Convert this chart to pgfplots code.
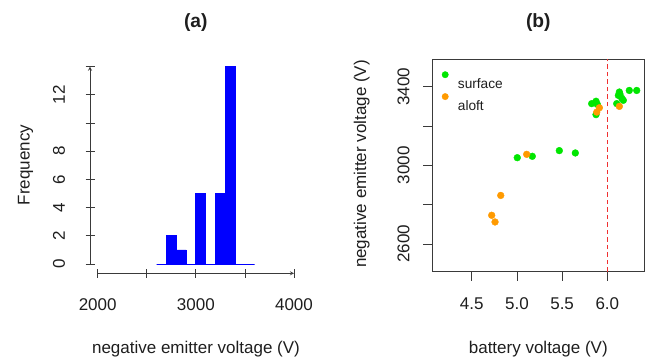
\documentclass[border=0pt]{standalone}
\usepackage{fontspec}
\setmainfont{Liberation Sans}
\usepackage{pgfplots}
\pgfplotsset{compat=1.18}
\definecolor{surf}{HTML}{00E600}
\definecolor{alof}{HTML}{FF9A00}
\definecolor{rdash}{HTML}{F03030}
\definecolor{axc}{HTML}{3A3A3A}
\definecolor{txt}{HTML}{1E1E1E}
\begin{document}
\begin{tikzpicture}[x=1pt,y=1pt]
\useasboundingbox (0,0) rectangle (647,360);
\pgfplotsset{
 rstyle/.style={scale only axis, clip=false,
   axis line style={axc, line width=0.8pt, -},
   major tick style={axc, line width=0.8pt},
   tick align=outside, major tick length=9pt,
   ticklabel style={font=\fontsize{17}{20}\selectfont, inner sep=0pt, text=txt},
   /pgf/number format/assume math mode=true},
}
% ---------- (a) histogram ----------
\begin{axis}[at={(89.9pt,88pt)}, anchor=south west, scale only axis,
  width=211.9pt, height=213.3pt, xmin=1920, xmax=4080, ymin=-0.56, ymax=14.56,
  hide axis, clip=false]
\addplot[ybar interval, fill=blue, draw=blue, line width=0.8pt] coordinates {
 (2600,0) (2700,2) (2800,1) (2900,0) (3000,5) (3100,0) (3200,5) (3300,14) (3400,0) (3500,0) (3600,0)};
\end{axis}
% left y axis
\begin{axis}[rstyle, at={(90pt,96pt)}, anchor=south west, width=10pt, height=197.3pt,
  xmin=0, xmax=1, ymin=0, ymax=14, axis y line=left, axis x line=none,
  ytick={0,2,...,14}, yticklabels={0,2,4,6,8,,12,},
  yticklabel style={xshift=-20.7pt, rotate=90, anchor=base}]
\end{axis}
% left x axis
\begin{axis}[rstyle, at={(97.7pt,86.7pt)}, anchor=south west, width=196.3pt, height=10pt,
  xmin=2000, xmax=4000, ymin=0, ymax=1, axis x line=bottom, axis y line=none,
  xtick={2000,2500,...,4000}, xticklabels={2000,,3000,,4000},
  xticklabel style={yshift=-32.4pt, anchor=base}]
\end{axis}
% ---------- (b) scatter ----------
\begin{axis}[rstyle, at={(432.3pt,88.3pt)}, anchor=south west, width=212pt, height=212.7pt,
  xmin=4.0642, xmax=6.409, ymin=2459, ymax=3541,
  xtick={4.5,5,5.5,6}, xticklabels={4.5,5.0,5.5,6.0},
  ytick={2600,2800,...,3400}, yticklabels={2600,,3000,,3400},
  xtick pos=bottom, ytick pos=left,
  xticklabel style={yshift=-28.5pt, anchor=base},
  yticklabel style={xshift=-14pt, rotate=90, anchor=base},
  legend style={at={(0,1)}, anchor=north west, xshift=8pt, yshift=-12.1pt, draw=none, fill=none,
    font=\fontsize{13.7}{16}\selectfont, inner sep=0pt, row sep=4.5pt,
    nodes={inner sep=0pt, text=txt, text height=10pt, text depth=0pt},
    /tikz/every odd column/.append style={column sep=4.7pt}},
  legend cell align=left,
  legend image code/.code={\fill[#1] (4.7pt,9pt) circle (3.2pt); \path[draw=none,fill=none] (0pt,0pt) rectangle (12.7pt,0.1pt);},
  ]
\addplot[only marks, mark=*, mark size=3.4pt, color=surf, mark options={draw=surf, fill=surf}] coordinates {
 (5.004,3039) (5.170,3046) (5.469,3075) (5.646,3063)
 (5.827,3314) (5.875,3326) (5.875,3258) (5.890,3310)
 (6.133,3373) (6.122,3356) (6.159,3342) (6.177,3331) (6.104,3314) (6.243,3381) (6.325,3381) (6.140,3362)};
\addlegendentry{surface}
\addplot[only marks, mark=*, mark size=3.4pt, color=alof, mark options={draw=alof, fill=alof}] coordinates {
 (5.108,3056) (4.821,2847) (4.721,2746) (4.758,2712) (5.912,3293) (5.883,3271) (6.133,3300)};
\addlegendentry{aloft}
% dashed reference line at 6.0 V, drawn as solid segments
\addplot[draw=rdash, line width=1.1pt, unbounded coords=jump, forget plot] coordinates {
 (6,2459.0) (6,2481.9) (6,nan) (6,2497.2) (6,2520.1) (6,nan) (6,2535.4) (6,2558.3) (6,nan)
 (6,2573.6) (6,2596.5) (6,nan) (6,2611.8) (6,2634.7) (6,nan) (6,2650.0) (6,2672.9) (6,nan)
 (6,2688.2) (6,2711.1) (6,nan) (6,2726.4) (6,2749.3) (6,nan) (6,2764.6) (6,2787.5) (6,nan)
 (6,2802.8) (6,2825.7) (6,nan) (6,2841.0) (6,2863.9) (6,nan) (6,2879.2) (6,2902.1) (6,nan)
 (6,2917.4) (6,2940.3) (6,nan) (6,2955.6) (6,2978.5) (6,nan) (6,2993.8) (6,3016.7) (6,nan)
 (6,3032.0) (6,3054.9) (6,nan) (6,3070.2) (6,3093.1) (6,nan) (6,3108.4) (6,3131.3) (6,nan)
 (6,3146.6) (6,3169.5) (6,nan) (6,3184.8) (6,3207.7) (6,nan) (6,3223.0) (6,3245.9) (6,nan)
 (6,3261.2) (6,3284.1) (6,nan) (6,3299.4) (6,3322.3) (6,nan) (6,3337.6) (6,3360.5) (6,nan)
 (6,3375.8) (6,3398.7) (6,nan) (6,3414.0) (6,3436.9) (6,nan) (6,3452.2) (6,3475.1) (6,nan)
 (6,3490.4) (6,3513.3) (6,nan) (6,3528.6) (6,3541.0)};
\end{axis}
% ---------- titles and labels ----------
\node[font=\fontsize{19.2}{22}\selectfont\bfseries, text=txt, anchor=base, inner sep=0pt] at (195.8,332.3) {(a)};
\node[font=\fontsize{19.2}{22}\selectfont\bfseries, text=txt, anchor=base, inner sep=0pt] at (538.3,332.3) {(b)};
\node[font=\fontsize{17}{20}\selectfont, text=txt, anchor=base, inner sep=0pt] at (196,6.9) {negative emitter voltage (V)};
\node[font=\fontsize{17}{20}\selectfont, text=txt, anchor=base, inner sep=0pt, rotate=90] at (29.7,195) {Frequency};
\node[font=\fontsize{17}{20}\selectfont, text=txt, anchor=base, inner sep=0pt] at (538.3,7) {battery voltage (V)};
\node[font=\fontsize{17}{20}\selectfont, text=txt, anchor=base, inner sep=0pt, rotate=90] at (366,196) {negative emitter voltage (V)};
\end{tikzpicture}
\end{document}
